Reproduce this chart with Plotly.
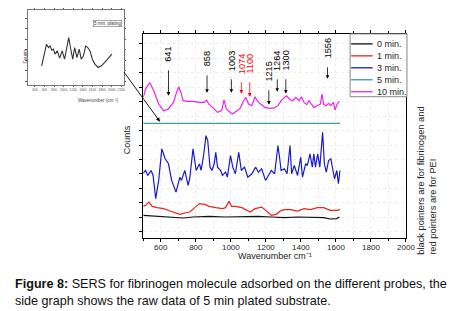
import plotly.graph_objects as go

# ---------------- data ----------------
wn_blue = [500, 513, 526, 545, 556, 571, 588, 606, 625, 644, 662, 687, 709, 718, 737, 756, 765, 784, 802, 821,
           830, 843, 858, 868, 881, 892, 905, 914, 924, 942, 952, 970, 980, 998, 1011, 1026, 1045, 1060, 1078,
           1097, 1120, 1142, 1157, 1176, 1198, 1217, 1231, 1250, 1269, 1278, 1287, 1306, 1321, 1338, 1347, 1362,
           1381, 1399, 1409, 1427, 1437, 1452, 1465, 1474, 1483, 1496, 1508, 1524, 1534, 1545, 1558, 1571, 1582,
           1592, 1605, 1614, 1623]
c_blue = [65.3, 68, 63, 68, 63, 39.7, 58, 89.7, 79.7, 74.7, 58, 46.3, 61.3, 58, 68, 53, 59.7, 89.7, 68, 74.7,
          68, 81.3, 103, 98, 71.3, 68, 74.7, 86.3, 71.3, 68, 63, 66.3, 61.3, 83, 71.3, 64.7, 86.3, 68, 71.3,
          61.3, 64.7, 71.3, 66.3, 69.7, 58, 64.7, 68, 64.7, 93, 81.3, 68, 69.7, 64.7, 93, 64.7, 73,
          63, 81.3, 61.3, 74.7, 73, 84.7, 71.3, 84.7, 71.3, 84.7, 71.3, 106.3, 74.7, 66.3, 78, 79.7, 68,
          59.7, 68, 54.7, 68]

wn_red = [500, 513, 532, 551, 579, 616, 653, 690, 709, 737, 765, 793, 821, 849, 877, 914, 952, 970, 989, 1004,
          1026, 1063, 1091, 1110, 1138, 1157, 1176, 1194, 1213, 1231, 1259, 1287, 1306, 1343, 1381, 1418, 1455,
          1493, 1530, 1567, 1605, 1623]
c_red = [32, 33, 36.3, 32, 30.7, 29.7, 27.3, 24.7, 24, 25.3, 26.3, 30.7, 34.7, 34, 32, 30.7, 29.7, 30.7, 37, 32,
         32, 30.7, 28, 26.3, 29.7, 30.7, 31.3, 28.7, 25.3, 23, 24, 28, 28.7, 28.7, 27.3, 29.7, 28.7,
         30.7, 30.7, 28, 28, 28.7]

wn_black = [500, 597, 690, 728, 784, 877, 970, 1157, 1231, 1306, 1381, 1455, 1530, 1567, 1605, 1620]
c_black = [23, 22, 20.3, 20.3, 21.3, 22, 21.3, 22, 21.3, 20.7, 21.3, 20.7, 20.7, 19.3, 19.7, 21.3]

wn_teal = [500, 700, 900, 1100, 1300, 1500, 1623]
c_teal = [115.3, 115.3, 115.3, 115.3, 115.3, 115.3, 115.3]

wn_mag = [500, 513, 537, 560, 588, 616, 644, 672, 690, 703, 715, 728, 746, 784, 821, 849, 862, 873, 896, 924,
          948, 961, 974, 1008, 1036, 1054, 1073, 1086, 1101, 1120, 1138, 1157, 1176, 1194, 1222, 1250, 1269,
          1287, 1306, 1319, 1334, 1353, 1371, 1390, 1403, 1418, 1433, 1446, 1459, 1474, 1493, 1511, 1521,
          1530, 1545, 1558, 1571, 1586, 1595, 1605, 1620]
c_mag = [141.3, 149.7, 156.3, 148, 134.7, 128, 129.7, 136.3, 146.3, 152, 146.3, 138, 137.3, 137.3, 136.3, 136.3,
         138.7, 134.7, 131.3, 126.3, 128, 138.7, 129.7, 124.7, 128, 130.7, 138, 141.3, 134.7, 133, 142, 136.3,
         134, 131.3, 130.3, 130.7, 133, 138, 141.3, 143, 139.7, 138, 141.3, 138, 142, 136.3, 134, 138, 134.7,
         131.3, 133, 134.7, 144.7, 134, 133, 135.3, 133, 136.3, 128.7, 134, 137.3]

series_names = ["0 min.", "1 min.", "3 min.", "5 min.", "10 min."]
series_colors = ["#111111", "#e8231f", "#1a1acc", "#3a9e9a", "#ee22ee"]

# peak annotations (label text, where the pointer sits on the axis, colour)
peak_labels = ["641", "858", "1003", "1074", "1100", "1215", "1264", "1300", "1556"]
peak_pos = [644, 864, 1003, 1060, 1108, 1217, 1265, 1314, 1552]
peak_colors = ["black", "black", "black", "red", "red", "black", "black", "black", "black"]
label_base = [175, 170, 166, 163, 163, 155, 166, 166, 178]
arrow_head = [143, 146, 146, 145, 142, 134, 147, 145, 160]

# inset (raw data, 5 min plating)
wn_raw = [542, 577, 617, 644, 685, 719, 754, 787, 821, 868, 917, 970, 1019, 1072, 1107, 1142, 1189, 1230,
          1277, 1325, 1366, 1413, 1460, 1501, 1550, 1597, 1652, 1719, 1787, 1856, 1923, 2005]
c_raw = [25.3, 34.3, 45.3, 54.2, 49.8, 52, 46.2, 47.6, 40.9, 45.3, 35.6, 45.3, 34.2, 54.2, 63.1, 49.8, 34.2,
         49.8, 36.4, 47.6, 34.2, 38.7, 52, 49.8, 45.3, 34.2, 27.6, 23.1, 25.3, 29.8, 34.2, 40.9]
raw_ticks = [400, 600, 800, 1000, 1200, 1400, 1600, 1800, 2000, 2200]

main_ticks = [600, 800, 1000, 1200, 1400, 1600, 1800, 2000]

# ---------------- figure ----------------
OFF = 8                      # default page margin of the html body
W, H = 464 - OFF, 311 - OFF
FONT = "Liberation Sans, Arial, sans-serif"

def px(x):
    return (x - OFF) / W

def py(y):
    return 1 - (y - OFF) / H

fig = go.Figure()
all_x = [wn_black, wn_red, wn_blue, wn_teal, wn_mag]
all_y = [c_black, c_red, c_blue, c_teal, c_mag]
for name, col, xs, ys in zip(series_names, series_colors, all_x, all_y):
    fig.add_trace(go.Scatter(x=xs, y=ys, mode="lines", name=name, showlegend=False,
                             line=dict(color=col, width=1.2), xaxis="x", yaxis="y"))

fig.add_trace(go.Scatter(x=wn_raw, y=c_raw, mode="lines", showlegend=False,
                         line=dict(color="#333333", width=1.1), xaxis="x2", yaxis="y2"))

annotations = []
shapes = []
for wn, lab, col, base, head in zip(peak_pos, peak_labels, peak_colors, label_base, arrow_head):
    annotations.append(dict(x=wn, y=head, ax=wn, ay=base - 5, xref="x", yref="y", axref="x", ayref="y",
                            text="", showarrow=True, arrowhead=2, arrowsize=0.9, arrowwidth=0.8,
                            arrowcolor=col))
    annotations.append(dict(x=wn, y=base, xref="x", yref="y", text=lab, showarrow=False, textangle=-90,
                            yanchor="bottom", xanchor="center",
                            font=dict(family=FONT, size=9.2, color=col)))

# manual compact legend
leg_x0, leg_x1, leg_y0, leg_y1 = 357, 415, 33, 96
shapes.append(dict(type="rect", xref="paper", yref="paper", x0=px(leg_x0), x1=px(leg_x1),
                   y0=py(leg_y1), y1=py(leg_y0), line=dict(color="#888", width=1), fillcolor="white",
                   layer="above"))
for i, (name, col) in enumerate(zip(series_names, series_colors)):
    yy = 43 + 12 * i
    shapes.append(dict(type="line", xref="paper", yref="paper", x0=px(358), x1=px(380),
                       y0=py(yy), y1=py(yy), line=dict(color=col, width=1.3), layer="above"))
    annotations.append(dict(x=px(382), y=py(yy), xref="paper", yref="paper", showarrow=False,
                            xanchor="left", yanchor="middle", text=name,
                            font=dict(family=FONT, size=9, color="#222")))

# inset connector arrow
annotations.append(dict(x=px(163), y=py(121), xref="paper", yref="paper", ax=-37, ay=-51,
                        text="", showarrow=True, arrowhead=2, arrowsize=0.9, arrowwidth=0.9,
                        arrowcolor="black"))

# axis titles
annotations.append(dict(x=px(280), y=py(263), xref="paper", yref="paper", showarrow=False,
                        text="Wavenumber cm\u207b\u00b9", font=dict(family=FONT, size=9, color="#222")))
annotations.append(dict(x=px(122), y=py(139), xref="paper", yref="paper", showarrow=False, textangle=-90,
                        text="Counts", font=dict(family=FONT, size=9, color="#222")))

# side note
annotations.append(dict(x=px(436), y=py(257), xref="paper", yref="paper", showarrow=False, textangle=-90,
                        xanchor="center", yanchor="bottom", align="left",
                        text="black pointers are for fibrinogen and<br>red pointers are for PEI",
                        font=dict(family=FONT, size=9.3, color="#222")))

# caption
annotations.append(dict(x=px(13), y=py(284), xref="paper", yref="paper", showarrow=False,
                        xanchor="left", yanchor="middle",
                        text="<b>Figure 8:</b> SERS for fibrinogen molecule adsorbed on the different probes, the",
                        font=dict(family=FONT, size=12.6, color="#111")))
annotations.append(dict(x=px(13), y=py(300.5), xref="paper", yref="paper", showarrow=False,
                        xanchor="left", yanchor="middle",
                        text="side graph shows the raw data of 5 min plated substrate.",
                        font=dict(family=FONT, size=12.6, color="#111")))

# inset labels
annotations.append(dict(x=px(77), y=py(95), xref="paper", yref="paper", showarrow=False,
                        text="Wavenumber (cm\u207b\u00b9)", font=dict(family=FONT, size=4.5, color="#444")))
annotations.append(dict(x=px(21), y=py(46), xref="paper", yref="paper", showarrow=False, textangle=-90,
                        text="Counts", font=dict(family=FONT, size=4.5, color="#444")))
annotations.append(dict(x=px(124), y=py(19), xref="paper", yref="paper", showarrow=False,
                        xanchor="right", text="5 min. plating", bordercolor="#555", borderwidth=0.5,
                        borderpad=0.5, font=dict(family=FONT, size=4.5, color="#333")))

fig.update_layout(
    width=W, height=H,
    margin=dict(l=0, r=0, t=0, b=0),
    paper_bgcolor="white", plot_bgcolor="white",
    font=dict(family=FONT, size=8, color="#222"),
    showlegend=False,
    xaxis=dict(domain=[px(146), px(414)], range=[500, 2000], anchor="y",
               tickvals=main_ticks, ticks="outside", ticklen=3, tickwidth=0.8, tickcolor="black",
               ticklabelstandoff=-2,
               minor=dict(dtick=100, ticks="outside", ticklen=2, tickcolor="black",
                          showgrid=True, gridcolor="#ececec", griddash="dot"),
               showline=True, linecolor="black", linewidth=1, mirror="allticks",
               showgrid=True, gridcolor="#ececec", griddash="dot", zeroline=False,
               tickfont=dict(family=FONT, size=8, color="#222")),
    yaxis=dict(domain=[py(238), py(33)], range=[0, 205], anchor="x",
               tick0=21, dtick=14.5, ticks="outside", ticklen=3, tickwidth=0.8, tickcolor="black",
               showticklabels=False, showline=True, linecolor="black", linewidth=1, mirror=True,
               showgrid=True, gridcolor="#ececec", griddash="dot", zeroline=False),
    xaxis2=dict(domain=[px(28), px(126)], range=[250, 2250], anchor="y2",
                tickvals=raw_ticks, ticks="outside", ticklen=1.5, tickwidth=0.5, tickcolor="#555",
                tickangle=0,
                showline=True, linecolor="#777", linewidth=0.8, mirror="allticks",
                showgrid=False, zeroline=False, tickfont=dict(family=FONT, size=3.3, color="#555")),
    yaxis2=dict(domain=[py(84), py(9)], range=[0, 100], anchor="x2",
                dtick=14, tick0=5, ticks="outside", ticklen=1.5, tickwidth=0.5, tickcolor="#555",
                showticklabels=False, showline=True, linecolor="#777", linewidth=0.8, mirror="allticks",
                showgrid=False, zeroline=False),
    annotations=annotations,
    shapes=shapes,
)

fig.write_html("out.html")
